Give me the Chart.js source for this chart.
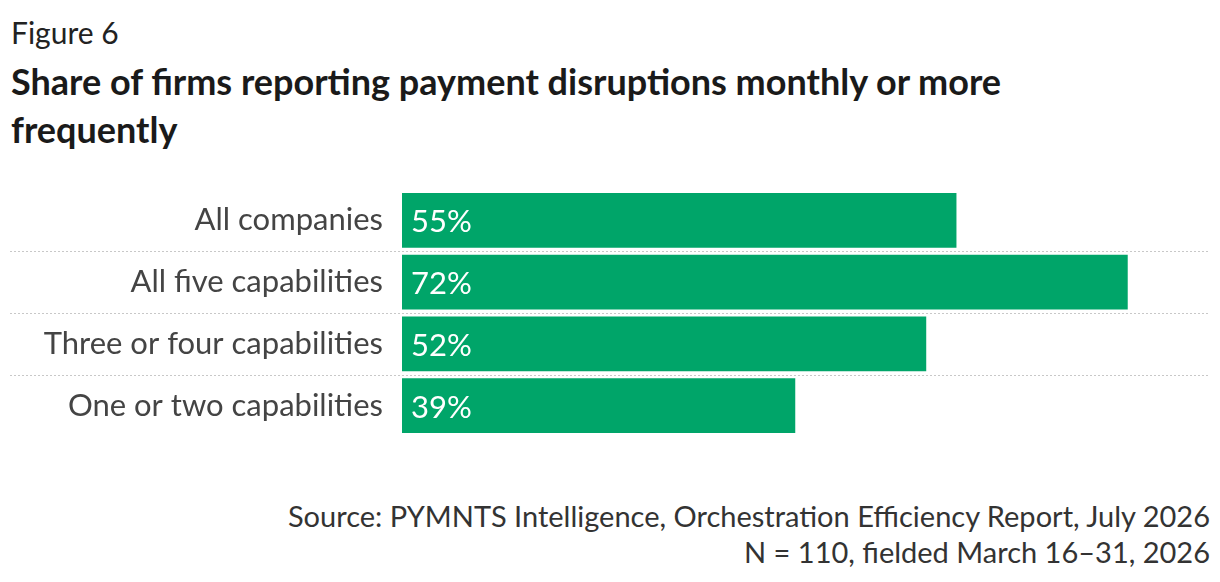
<!DOCTYPE html>
<html>
<head>
<meta charset="utf-8">
<script src="https://cdn.jsdelivr.net/npm/chart.js@4/dist/chart.umd.min.js"></script>
<style>
  body { margin: 0; width: 1220px; height: 582px; background: #fff; font-family: Lato, sans-serif; position: relative; overflow: hidden; }
  #fig { position: absolute; left: 11px; top: 14px; font-size: 30px; color: #222; }
  #title { position: absolute; left: 11px; top: 57px; width: 1150px; font-size: 36px; font-weight: bold; color: #1a1a1a; line-height: 48px; }
  #c { position: absolute; left: 0; top: 160px; }
  .src { position: absolute; right: 10px; font-size: 29px; color: #333; }
</style>
</head>
<body>
<div id="fig">Figure 6</div>
<div id="title">Share of firms reporting payment disruptions monthly or more frequently</div>
<canvas id="c" width="1220" height="306"></canvas>
<div class="src" style="top:498px">Source: PYMNTS Intelligence, Orchestration Efficiency Report, July 2026</div>
<div class="src" style="top:534px">N = 110, fielded March 16–31, 2026</div>
<script>
const categories = ['All companies', 'All five capabilities', 'Three or four capabilities', 'One or two capabilities'];
const shares = [55, 72, 52, 39];

const separators = {
  id: 'separators',
  beforeDatasetsDraw(chart) {
    const { ctx } = chart;
    const y = chart.scales.y;
    ctx.save();
    ctx.strokeStyle = '#c8c8c8';
    ctx.lineWidth = 1;
    ctx.setLineDash([2, 2]);
    for (let i = 0; i < categories.length - 1; i++) {
      const yy = Math.round((y.getPixelForTick(i) + y.getPixelForTick(i + 1)) / 2) + 0.5;
      ctx.beginPath();
      ctx.moveTo(10, yy);
      ctx.lineTo(1210, yy);
      ctx.stroke();
    }
    ctx.restore();
  }
};

const valueLabels = {
  id: 'valueLabels',
  afterDatasetsDraw(chart) {
    const { ctx } = chart;
    const meta = chart.getDatasetMeta(0);
    ctx.save();
    ctx.fillStyle = '#fff';
    ctx.font = '31px Lato';
    ctx.textBaseline = 'middle';
    meta.data.forEach((bar, i) => {
      ctx.fillText(shares[i] + '%', bar.base + 9, bar.y + 2);
    });
    ctx.restore();
  }
};

new Chart(document.getElementById('c'), {
  type: 'bar',
  data: {
    labels: categories,
    datasets: [{
      data: shares,
      backgroundColor: '#00a569',
      barThickness: 54
    }]
  },
  options: {
    indexAxis: 'y',
    responsive: false,
    animation: false,
    layout: { padding: { left: 0, right: 12, top: 0, bottom: 0 } },
    plugins: { legend: { display: false }, tooltip: { enabled: false } },
    scales: {
      x: { min: 0, max: 80, display: false },
      y: {
        grid: { display: false },
        border: { display: false },
        ticks: { color: '#444', font: { family: 'Lato', size: 31 }, padding: 11 },
        afterFit(scale) { scale.width = 402; }
      }
    }
  },
  plugins: [separators, valueLabels]
});
</script>
</body>
</html>
